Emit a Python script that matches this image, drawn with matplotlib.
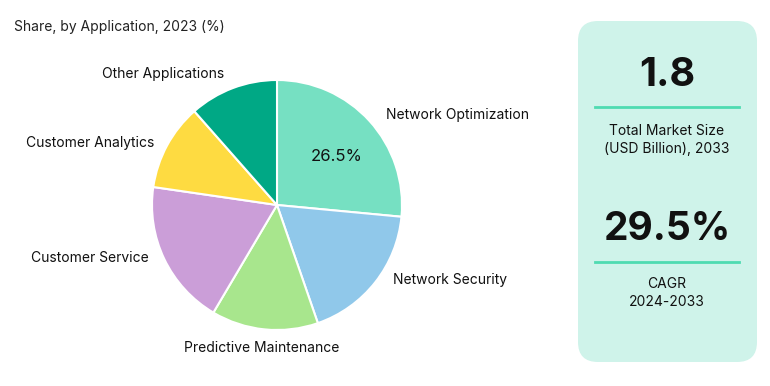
import matplotlib
matplotlib.use("Agg")
import matplotlib.pyplot as plt
from matplotlib.patches import FancyBboxPatch

plt.rcParams["font.family"] = ["Inter", "DejaVu Sans"]

# ------------------------------------------------
# data
# ------------------------------------------------
applications = [
    "Network Optimization",
    "Network Security",
    "Predictive Maintenance",
    "Customer Service",
    "Customer Analytics",
    "Other Applications",
]
shares = [26.5, 18.2, 13.8, 18.8, 11.2, 11.5]
colors = ["#76E0C2", "#90C8EA", "#A8E68D", "#CB9ED8", "#FEDB41", "#00A885"]

market_size = "1.8"
market_label = "Total Market Size\n(USD Billion), 2033"
cagr = "29.5%"
cagr_label = "CAGR\n2024-2033"

# label placement (pie radius units) and alignment
label_pos = [(0.87, 0.72), (0.93, -0.60), (-0.12, -1.14),
             (-1.03, -0.42), (-0.98, 0.50), (-0.42, 1.05)]
label_ha = ["left", "left", "center", "right", "right", "right"]

W, H = 770, 386
fig = plt.figure(figsize=(W / 100, H / 100), dpi=100)

# background axes in pixel coords
bg = fig.add_axes([0, 0, 1, 1])
bg.set_xlim(0, W)
bg.set_ylim(H, 0)
bg.axis("off")

bg.text(14, 27, "Share, by Application, 2023 (%)", fontsize=10,
        va="center", ha="left", color="#222222")

# card on the right
card = FancyBboxPatch((578, 21), 179, 341,
                      boxstyle="round,pad=0,rounding_size=20",
                      facecolor="#CFF3EA", edgecolor="none")
bg.add_patch(card)
cx = 667
bg.text(cx, 76, market_size, fontsize=28.5, fontweight="bold",
        ha="center", va="center", color="#111111")
bg.plot([595, 739], [107, 107], color="#4FDBB1", linewidth=2)
bg.text(cx, 140, market_label, fontsize=10, ha="center", va="center",
        color="#111111", linespacing=1.4)
bg.text(cx, 229, cagr, fontsize=28, fontweight="bold",
        ha="center", va="center", color="#111111")
bg.plot([595, 739], [262, 262], color="#4FDBB1", linewidth=2)
bg.text(cx, 293, cagr_label, fontsize=10, ha="center", va="center",
        color="#111111", linespacing=1.4)

# pie
pcx, pcy, r = 277, 205, 125
ax = fig.add_axes([(pcx - r) / W, (H - pcy - r) / H, 2 * r / W, 2 * r / H])


def fmt(p):
    return f"{p:.1f}%" if p > 25 else ""


wedges, texts, autotexts = ax.pie(
    shares, labels=applications, colors=colors, startangle=90,
    counterclock=False, autopct=fmt, pctdistance=0.5, labeldistance=1.1,
    wedgeprops=dict(edgecolor="white", linewidth=1.5),
    textprops=dict(fontsize=10, color="#111111"),
)
for t, pos, ha in zip(texts, label_pos, label_ha):
    t.set_position(pos)
    t.set_ha(ha)
    t.set_va("center")
autotexts[0].set_position((0.48, 0.39))
autotexts[0].set_fontsize(12)
ax.set_xlim(-1, 1)
ax.set_ylim(-1, 1)
ax.set_aspect("equal")

plt.savefig("out.png", dpi=100)
plt.close(fig)
